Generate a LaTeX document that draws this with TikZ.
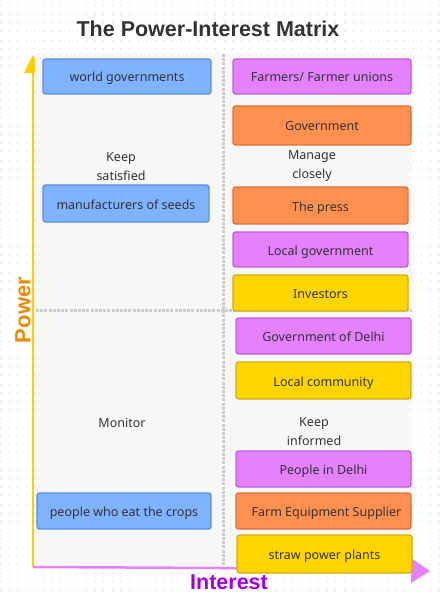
\documentclass[tikz,border=0pt]{standalone}
\usepackage{fontspec}
\setmainfont{Noto Sans}
\newfontfamily\headfont{Liberation Sans}
\definecolor{txt}{HTML}{333333}
\definecolor{bluef}{HTML}{80B3FF}
\definecolor{blued}{HTML}{5C8FD6}
\definecolor{purpf}{HTML}{E580FF}
\definecolor{purpd}{HTML}{C060D8}
\definecolor{orgf}{HTML}{FF9050}
\definecolor{orgd}{HTML}{D9723E}
\definecolor{yelf}{HTML}{FFD500}
\definecolor{yeld}{HTML}{D4AC0D}
\definecolor{panel}{HTML}{F7F7F7}
\definecolor{yaxis}{HTML}{FFD000}
\definecolor{xaxis}{HTML}{E580FF}
\definecolor{powerc}{HTML}{EE8A00}
\definecolor{interc}{HTML}{A000E8}
\definecolor{divc}{HTML}{CCCCCC}
\definecolor{dotc}{HTML}{CFCFCF}
\begin{document}
\begin{tikzpicture}[x=1pt,y=-1pt,
  card/.style={rounded corners=2.5pt, line width=1.3pt, text=txt, inner sep=0pt,
    font=\fontsize{12.5}{15}\selectfont, align=center, text height=12pt, text depth=1pt},
  bluecard/.style={card, fill=bluef, draw=blued},
  purpcard/.style={card, fill=purpf, draw=purpd},
  orgcard/.style={card, fill=orgf, draw=orgd},
  yelcard/.style={card, fill=yelf, draw=yeld},
  quadlabel/.style={text=txt, font=\fontsize{12.5}{19}\selectfont, align=center, inner sep=0pt},
  divider/.style={draw=divc, line width=3pt, dash pattern=on 3pt off 1.2pt}
]
\useasboundingbox (0,0) rectangle (443,596);
\fill[white] (0,0) rectangle (443,596);
% background dots
\foreach \i in {0,...,51}{
  \foreach \j in {0,...,69}{
    \fill[dotc] ({0.5+8.6*\i-0.5},{5.7+8.6*\j-0.5}) rectangle ++(1,1);
  }
}
% title
\node[text=txt, font=\headfont\bfseries\fontsize{21.5}{24}\selectfont, inner sep=0pt] (title) at (208,28.5) {The Power-Interest Matrix};
% axes
\coordinate (origin) at (33,567);
\coordinate (ytop) at (33,72);
\coordinate (xend) at (412,569);
\draw[yaxis, line width=2pt] (origin) -- (ytop);
\fill[yaxis] (33,55) -- (24,73) -- (42,73) -- cycle;
% panel
\fill[panel] (35,53) rectangle (412,566);
\draw[xaxis, line width=2.5pt] (origin) -- (xend);
\fill[xaxis] (430,571) -- (411,558) -- (411,583) -- cycle;
% dividers
\coordinate (vt) at (223,54);
\coordinate (vb) at (223,566);
\coordinate (hl) at (36,310);
\coordinate (hr) at (412,310);
\draw[divider] (vt) -- (vb);
\draw[divider] (hl) -- (hr);
% axis labels
\node[text=powerc, font=\headfont\bfseries\fontsize{22}{26}\selectfont, rotate=90, inner sep=0pt] (power) at (23,310) {Power};
\node[text=interc, font=\headfont\bfseries\fontsize{21.5}{25}\selectfont, inner sep=0pt] (interest) at (229,582) {Interest};
% quadrant labels
\node[quadlabel] (ks) at (121,166.5) {Keep\\satisfied};
\node[quadlabel] (mc) at (312,166.5) {Manage\\closely};
\node[quadlabel] (mon) at (122,422.5) {Monitor};
\node[quadlabel] (ki) at (314,432) {Keep\\informed};
% left column
\node[bluecard, minimum width=168pt, minimum height=35pt] (wg) at (127,76.5) {world governments};
\node[bluecard, minimum width=166pt, minimum height=37pt] (ms) at (126,203.5) {manufacturers of seeds};
\node[bluecard, minimum width=174pt, minimum height=36pt] (pe) at (124,511) {people who eat the crops};
% right column
\node[purpcard, minimum width=178pt, minimum height=35pt] (ff) at (322,76.5) {Farmers/ Farmer unions};
\node[orgcard, minimum width=178pt, minimum height=39pt] (gov) at (322,125.5) {Government};
\node[orgcard, minimum width=175pt, minimum height=37pt] (press) at (320.5,205.5) {The press};
\node[purpcard, minimum width=175pt, minimum height=35pt] (lg) at (320.5,249.5) {Local government};
\node[yelcard, minimum width=175pt, minimum height=36pt] (inv) at (320.5,293) {Investors};
\node[purpcard, minimum width=175pt, minimum height=36pt] (gd) at (323.5,336) {Government of Delhi};
\node[yelcard, minimum width=175pt, minimum height=37pt] (lc) at (323.5,380.5) {Local community};
\node[purpcard, minimum width=175pt, minimum height=36pt] (pd) at (323.5,469) {People in Delhi};
\node[orgcard, minimum width=175pt, minimum height=36pt] (fe) at (323.5,511) {\hspace*{6pt}Farm Equipment Supplier};
\node[yelcard, minimum width=175pt, minimum height=38pt] (sp) at (324.5,554) {straw power plants};
\end{tikzpicture}
\end{document}
